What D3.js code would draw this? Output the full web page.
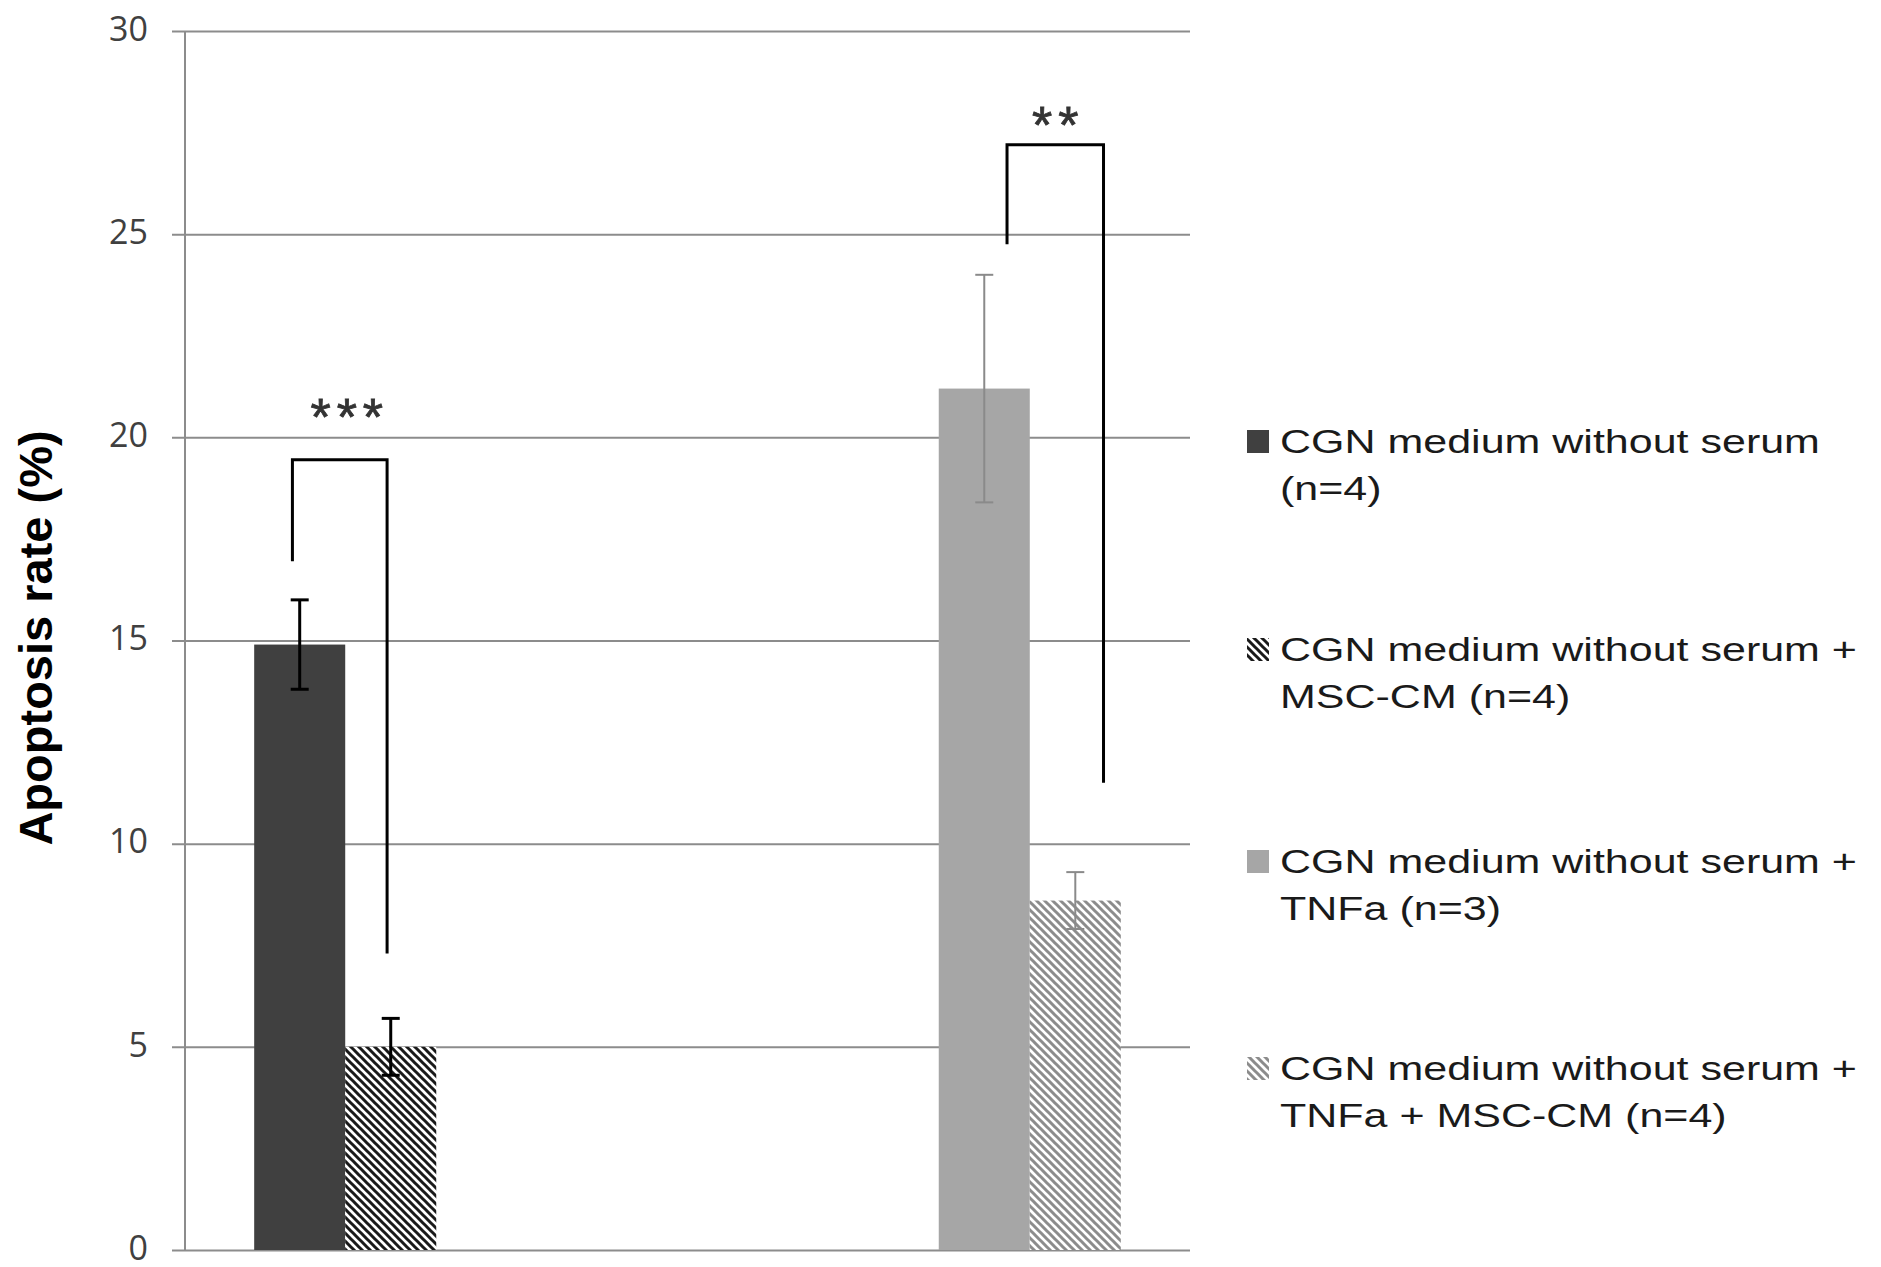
<!DOCTYPE html>
<html>
<head>
<meta charset="utf-8">
<script src="https://cdn.jsdelivr.net/npm/d3@7"></script>
<style>
  html, body { margin: 0; padding: 0; background: #fff; }
  svg { display: block; }
</style>
</head>
<body>
<svg id="chart" width="1881" height="1267"></svg>
<script>
// groups on the x axis (no visible labels in the figure)
const groups = ['without TNFa', 'with TNFa'];
const seriesNames = [
  ['CGN medium without serum', '(n=4)'],
  ['CGN medium without serum +', 'MSC-CM (n=4)'],
  ['CGN medium without serum +', 'TNFa (n=3)'],
  ['CGN medium without serum +', 'TNFa + MSC-CM (n=4)']
];
// mean apoptosis rate (%) per series, per group (null = no bar)
const series1 = [14.9, null];
const series2 = [5.0, null];
const series3 = [null, 21.2];
const series4 = [null, 8.6];
// error bar half-widths
const err1 = [1.1, null];
const err2 = [0.7, null];
const err3 = [null, 2.8];
const err4 = [null, 0.7];
const yTicks = [0, 5, 10, 15, 20, 25, 30];

// significance brackets: group, left/right slot position, top, left foot, right foot, star height
const brackets = [
  { group: 0, left: 0.42, right: 1.46, top: 19.45, leftEnd: 16.95, rightEnd: 7.3, labelAt: 20.8, label: '***' },
  { group: 1, left: 2.75, right: 3.81, top: 27.2, leftEnd: 24.75, rightEnd: 11.5, labelAt: 27.98, label: '**' }
];

const values = [series1, series2, series3, series4];
const errors = [err1, err2, err3, err4];
const fills = ['#404040', 'url(#hatchDark)', '#a6a6a6', 'url(#hatchLight)'];
const errColors = ['#000', '#000', '#8a8a8a', '#8a8a8a'];
const errWidths = [3, 3, 2, 2];

const svg = d3.select('#chart');
const plotLeft = 185, plotRight = 1190, plotTop = 31, plotBottom = 1250;

// hatch patterns
const defs = svg.append('defs');
[['hatchDark', '#1a1a1a'], ['hatchLight', '#8c8c8c']].forEach(([id, c]) => {
  const p = defs.append('pattern')
    .attr('id', id)
    .attr('patternUnits', 'userSpaceOnUse')
    .attr('width', 8).attr('height', 8);
  p.append('rect').attr('width', 8).attr('height', 8).attr('fill', '#fff');
  p.append('path')
    .attr('d', 'M-2,6 L2,10 M0,0 L8,8 M6,-2 L10,2')
    .attr('stroke', c)
    .attr('stroke-width', 3);
});

const x0 = d3.scaleBand().domain(groups).range([plotLeft, plotRight]).padding(0);
const x1 = d3.scaleBand().domain(d3.range(4)).range([0, x0.bandwidth()])
  .paddingInner(0).paddingOuter(0.76);
const y = d3.scaleLinear().domain([0, 30]).range([plotBottom, plotTop]);

// gridlines + tick labels
const yAxis = svg.append('g')
  .attr('transform', `translate(${plotRight},0)`)
  .call(d3.axisLeft(y).tickValues(yTicks).tickSize(plotRight - plotLeft + 13).tickPadding(24));
yAxis.select('.domain').remove();
yAxis.selectAll('.tick line').attr('stroke', '#8c8c8c').attr('stroke-width', 2);
yAxis.selectAll('.tick text')
  .attr('font-family', '"Open Sans", sans-serif')
  .attr('font-size', 34)
  .attr('dy', '0.27em')
  .attr('fill', '#404040');

// vertical axis line
svg.append('line')
  .attr('x1', plotLeft).attr('x2', plotLeft)
  .attr('y1', y(0)).attr('y2', y(30))
  .attr('stroke', '#8c8c8c').attr('stroke-width', 2);

// slot position -> pixel
const slotX = (g, s) => x0(groups[g]) + x1(0) + s * x1.step();

// bars
values.forEach((vals, s) => {
  svg.append('g').selectAll('rect')
    .data(vals.map((v, g) => ({ v, g })).filter(d => d.v != null))
    .enter().append('rect')
    .attr('x', d => x0(groups[d.g]) + x1(s))
    .attr('y', d => y(d.v))
    .attr('width', x1.bandwidth())
    .attr('height', d => y(0) - y(d.v))
    .attr('fill', fills[s]);
});

// error bars
values.forEach((vals, s) => {
  const g = svg.append('g')
    .attr('stroke', errColors[s])
    .attr('stroke-width', errWidths[s]);
  vals.forEach((v, gi) => {
    if (v == null) return;
    const e = errors[s][gi];
    const cx = x0(groups[gi]) + x1(s) + x1.bandwidth() / 2;
    g.append('line').attr('x1', cx).attr('x2', cx).attr('y1', y(v - e)).attr('y2', y(v + e));
    [v - e, v + e].forEach(t => {
      g.append('line').attr('x1', cx - 9).attr('x2', cx + 9).attr('y1', y(t)).attr('y2', y(t));
    });
  });
});

// significance brackets
const starSize = 52, starGap = 6;
brackets.forEach(b => {
  const xl = slotX(b.group, b.left), xr = slotX(b.group, b.right);
  svg.append('path')
    .attr('d', `M${xl},${y(b.leftEnd)} V${y(b.top)} H${xr} V${y(b.rightEnd)}`)
    .attr('fill', 'none')
    .attr('stroke', '#000')
    .attr('stroke-width', 3);
  svg.append('text')
    .attr('x', (xl + xr) / 2 + starGap / 2 + (b.label.length === 3 ? 7 : 0))
    .attr('y', y(b.labelAt) + starSize * 0.58)
    .attr('text-anchor', 'middle')
    .attr('font-family', '"Liberation Sans", Arial, sans-serif')
    .attr('font-size', starSize)
    .attr('letter-spacing', starGap)
    .attr('fill', '#333')
    .attr('stroke', '#333')
    .attr('stroke-width', 0.8)
    .text(b.label);
});

// y title
svg.append('text')
  .attr('transform', 'translate(52,638) rotate(-90)')
  .attr('text-anchor', 'middle')
  .attr('font-family', '"Liberation Sans", Arial, sans-serif')
  .attr('font-weight', 'bold')
  .attr('font-size', 47)
  .attr('fill', '#000')
  .text('Apoptosis rate (%)');

// legend (text in the figure is stretched horizontally)
const legendBase = [453, 661, 873, 1080];
const legend = svg.append('g');
seriesNames.forEach((lines, i) => {
  const by = legendBase[i];
  legend.append('rect')
    .attr('x', 1247).attr('y', by - 23)
    .attr('width', 22).attr('height', 23)
    .attr('fill', fills[i]);
  const t = legend.append('text')
    .attr('transform', `translate(1280,${by}) scale(1.265,1)`)
    .attr('font-family', '"Liberation Sans", Arial, sans-serif')
    .attr('font-size', 34)
    .attr('fill', '#1a1a1a');
  lines.forEach((ln, k) => {
    t.append('tspan').attr('x', 0).attr('y', k * 47).text(ln);
  });
});
</script>
</body>
</html>
